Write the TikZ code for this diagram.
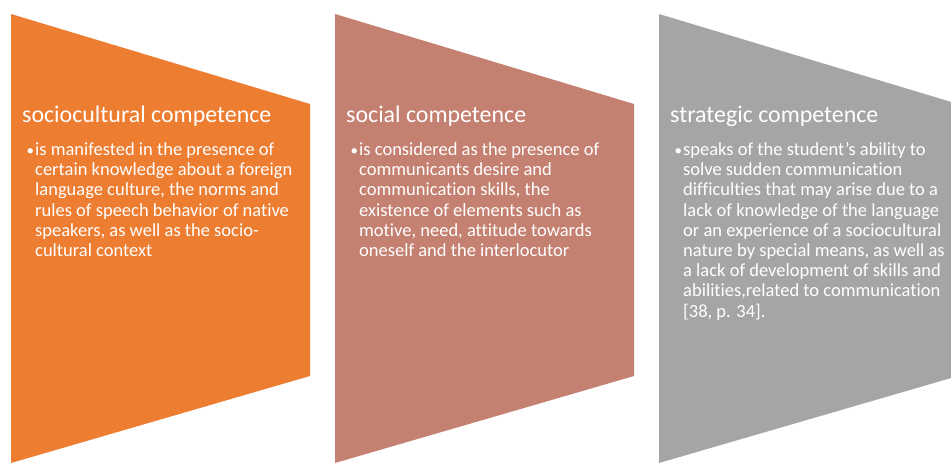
\documentclass[tikz,border=0pt]{standalone}
\usepackage{fontspec}
\setmainfont{Carlito}[Ligatures=NoCommon]
\definecolor{cOrange}{HTML}{ED7D31}
\definecolor{cBrown}{HTML}{C48070}
\definecolor{cGray}{HTML}{A5A5A5}
\newcommand{\bodybox}[1]{\parbox[t]{300pt}{\raggedright\fontsize{18.5}{20.2}\selectfont #1}}
\tikzset{
  ttl/.style={anchor=base west, inner sep=0pt, text=white, font=\fontsize{23.9}{26}\selectfont},
  bodytxt/.style={anchor=base west, inner sep=0pt, text=white},
  bul/.style={anchor=base west, inner sep=0pt, text=white, font=\fontsize{15}{16}\selectfont}
}
\begin{document}
\begin{tikzpicture}[x=1pt,y=-1pt]
\useasboundingbox (0,0) rectangle (951,463);
\clip (0,0) rectangle (951,463);
% panels
\fill[cOrange] (11,14) -- (310,104) -- (310,376) -- (11,463) -- cycle;
\fill[cBrown] (335,14) -- (634,104) -- (634,376) -- (335,463) -- cycle;
\fill[cGray] (659,14) -- (958,104) -- (958,376) -- (659,463) -- cycle;
% panel 1
\node[ttl] (t1) at (22,122.5) {sociocultural competence};
\node[bul] (b1) at (26.5,155.5) {•};
\node[bodytxt] (x1) at (35,155.5) {\bodybox{is manifested in the presence of\\certain knowledge about a foreign\\language culture, the norms and\\rules of speech behavior of native\\speakers, as well as the socio-\\cultural context}};
% panel 2
\node[ttl] (t2) at (346,122.5) {social competence};
\node[bul] (b2) at (350.5,155.5) {•};
\node[bodytxt] (x2) at (359,155.5) {\bodybox{is considered as the presence of\\communicants desire and\\communication skills, the\\existence of elements such as\\motive, need, attitude towards\\oneself and the interlocutor}};
% panel 3
\node[ttl] (t3) at (670,122.5) {strategic competence};
\node[bul] (b3) at (674.5,155.5) {•};
\node[bodytxt] (x3) at (683,155.5) {\bodybox{speaks of the student’s ability to\\solve sudden communication\\difficulties that may arise due to a\\lack of knowledge of the language\\or an experience of a sociocultural\\nature by special means, as well as\\a lack of development of skills and\\abilities,related to communication\\{[38, p. 34].}}};
\end{tikzpicture}
\end{document}
